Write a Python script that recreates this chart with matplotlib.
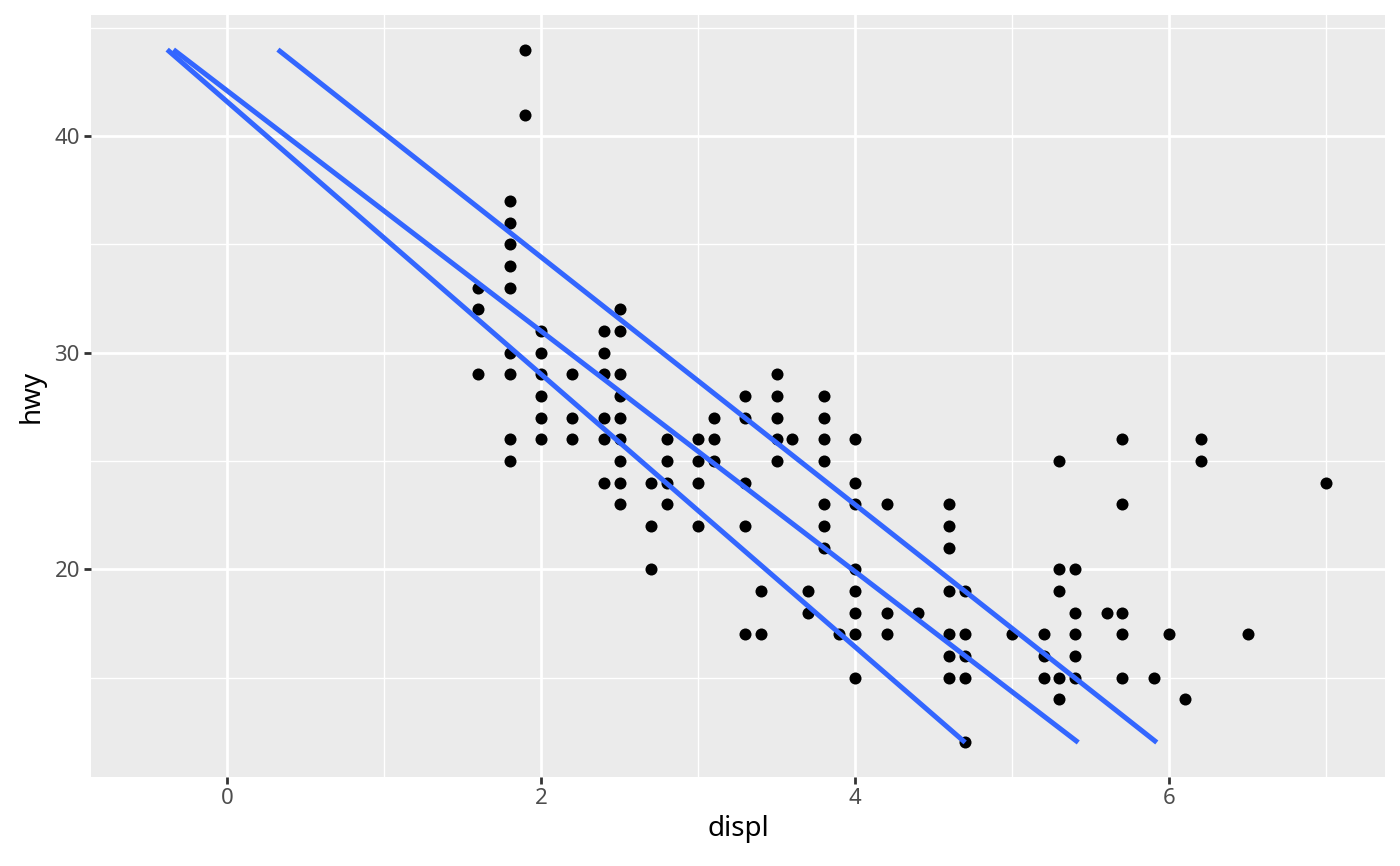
import numpy as np
import matplotlib.pyplot as plt

# displ / hwy points (duplicates dropped)
displ = [1.6, 1.6, 1.6,
         1.8, 1.8, 1.8, 1.8, 1.8, 1.8, 1.8, 1.8, 1.8,
         1.9, 1.9,
         2.0, 2.0, 2.0, 2.0, 2.0, 2.0,
         2.2, 2.2, 2.2,
         2.4, 2.4, 2.4, 2.4, 2.4, 2.4,
         2.5, 2.5, 2.5, 2.5, 2.5, 2.5, 2.5, 2.5, 2.5,
         2.7, 2.7, 2.7,
         2.8, 2.8, 2.8, 2.8,
         3.0, 3.0, 3.0, 3.0,
         3.1, 3.1, 3.1,
         3.3, 3.3, 3.3, 3.3, 3.3,
         3.4, 3.4,
         3.5, 3.5, 3.5, 3.5, 3.5,
         3.6,
         3.7, 3.7,
         3.8, 3.8, 3.8, 3.8, 3.8, 3.8, 3.8,
         3.9,
         4.0, 4.0, 4.0, 4.0, 4.0, 4.0, 4.0, 4.0,
         4.2, 4.2, 4.2,
         4.4,
         4.6, 4.6, 4.6, 4.6, 4.6, 4.6, 4.6,
         4.7, 4.7, 4.7, 4.7, 4.7,
         5.0,
         5.2, 5.2, 5.2,
         5.3, 5.3, 5.3, 5.3, 5.3,
         5.4, 5.4, 5.4, 5.4, 5.4,
         5.6,
         5.7, 5.7, 5.7, 5.7, 5.7,
         5.9, 6.0, 6.1,
         6.2, 6.2,
         6.5, 7.0]
hwy = [33, 32, 29,
       37, 36, 35, 34, 33, 30, 29, 26, 25,
       44, 41,
       31, 30, 29, 28, 27, 26,
       29, 27, 26,
       31, 30, 29, 27, 26, 24,
       32, 31, 29, 28, 27, 26, 25, 24, 23,
       24, 22, 20,
       26, 25, 24, 23,
       26, 25, 24, 22,
       27, 26, 25,
       28, 27, 24, 22, 17,
       19, 17,
       29, 28, 27, 26, 25,
       26,
       19, 18,
       28, 27, 26, 25, 23, 22, 21,
       17,
       26, 24, 23, 20, 19, 18, 17, 15,
       23, 18, 17,
       18,
       23, 22, 21, 19, 17, 16, 15,
       19, 17, 16, 15, 12,
       17,
       17, 16, 15,
       25, 20, 19, 15, 14,
       20, 18, 17, 16, 15,
       18,
       26, 23, 18, 17, 15,
       15, 17, 14,
       26, 25,
       17, 24]

# the three fitted lines, each from hwy 44 down to hwy 12
line_x_start = [-0.38, -0.34, 0.325]
line_x_end = [4.70, 5.42, 5.92]
line_y_start = 44
line_y_end = 12

plt.rcParams['font.family'] = ['Noto Sans', 'DejaVu Sans']

fig = plt.figure(figsize=(14, 8.66), dpi=100)
ax = fig.add_axes([0.065, 0.1024, 0.9243, 0.8803])
ax.set_facecolor('#EBEBEB')

ax.scatter(displ, hwy, s=75, color='black', linewidths=0, zorder=3)
for x0, x1 in zip(line_x_start, line_x_end):
    ax.plot([x0, x1], [line_y_start, line_y_end], color='#3366FF',
            lw=3.6, solid_capstyle='butt', zorder=4)

ax.set_xlim(-0.865, 7.373)
ax.set_ylim(10.39, 45.6)
ax.set_xticks([0, 2, 4, 6])
ax.set_yticks([20, 30, 40])
ax.set_xticks([1, 3, 5, 7], minor=True)
ax.set_yticks([15, 25, 35, 45], minor=True)

ax.grid(which='major', color='white', lw=2.0)
ax.grid(which='minor', color='white', lw=1.0)
ax.set_axisbelow(True)
for s in ax.spines.values():
    s.set_visible(False)

ax.tick_params(which='major', length=5, width=2, color='#333333',
               labelcolor='#4D4D4D', labelsize=16, pad=3)
ax.tick_params(which='minor', length=0)

ax.set_xlabel('displ', fontsize=20, color='black', labelpad=4)
ax.set_ylabel('hwy', fontsize=20, color='black', labelpad=6)

fig.savefig('out.png', dpi=100)
